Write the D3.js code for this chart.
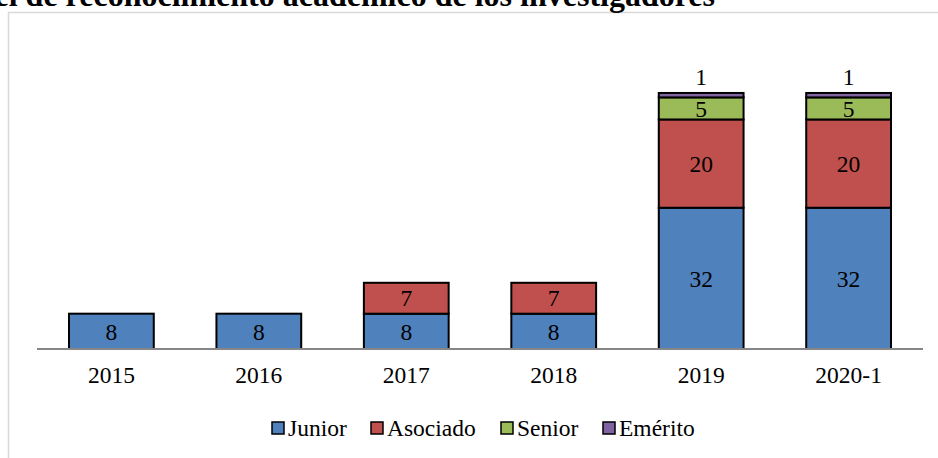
<!DOCTYPE html>
<html>
<head>
<meta charset="utf-8">
<script src="https://cdn.jsdelivr.net/npm/d3@7"></script>
<style>
  html, body { margin: 0; padding: 0; background: #fff; }
  svg { display: block; }
  text { font-family: "Liberation Serif", "Times New Roman", serif; fill: #000; }
</style>
</head>
<body>
<svg id="chart" width="938" height="458"></svg>
<script>
// Nivel de reconocimiento academico - stacked bars

const YEARS = ['2015', '2016', '2017', '2018', '2019', '2020-1'];
const SERIES = ['Junior', 'Asociado', 'Senior', 'Emérito'];
const JUNIOR = [8, 8, 8, 8, 32, 32];
const ASOCIADO = [0, 0, 7, 7, 20, 20];
const SENIOR = [0, 0, 0, 0, 5, 5];
const EMERITO = [0, 0, 0, 0, 1, 1];
const COLORS = ['#4F81BD', '#C0504D', '#9BBB59', '#8064A2'];

const rows = YEARS.map((y, i) => ({
  year: y, Junior: JUNIOR[i], Asociado: ASOCIADO[i], Senior: SENIOR[i], 'Emérito': EMERITO[i]
}));
const stacked = d3.stack().keys(SERIES)(rows);

const svg = d3.select('#chart');
const FONT = '"Liberation Serif", "Times New Roman", serif';

// outer frame (cut off on right and bottom like the source)
svg.append('rect')
  .attr('x', 8.5).attr('y', 12.5)
  .attr('width', 940).attr('height', 460)
  .attr('fill', 'none').attr('stroke', '#d9d9d9').attr('stroke-width', 1.5);

// title, partly outside the picture like the source crop
svg.append('text')
  .attr('x', 715).attr('y', 6)
  .attr('text-anchor', 'end')
  .style('font-family', FONT)
  .style('font-size', '32px').style('font-weight', 'bold')
  .text('Nivel de reconocimiento académico de los investigadores');

const x = d3.scaleBand().domain(YEARS).range([37, 923]).paddingInner(0.425).paddingOuter(0.217);
const y = d3.scaleLinear().domain([0, 70]).range([349, 40]);

const g = svg.append('g');

stacked.forEach((layer, si) => {
  g.selectAll(null)
    .data(layer.filter(d => d[1] - d[0] > 0))
    .enter()
    .append('rect')
    .attr('x', d => x(d.data.year))
    .attr('y', d => y(d[1]))
    .attr('width', x.bandwidth())
    .attr('height', d => y(d[0]) - y(d[1]))
    .attr('fill', COLORS[si])
    .attr('stroke', '#000')
    .attr('stroke-width', 2);
});

// data labels (the tiny Emérito segment gets its label above the stack)
stacked.forEach((layer, si) => {
  g.selectAll(null)
    .data(layer.filter(d => d[1] - d[0] > 0))
    .enter()
    .append('text')
    .attr('x', d => x(d.data.year) + x.bandwidth() / 2)
    .attr('y', d => SERIES[si] === 'Emérito' ? y(d[1]) - 16 : (y(d[0]) + y(d[1])) / 2)
    .attr('dy', '0.35em')
    .attr('text-anchor', 'middle')
    .style('font-family', FONT)
    .style('font-size', '23.5px')
    .text(d => d[1] - d[0]);
});

// category axis
const axis = d3.axisBottom(x).tickSize(0).tickPadding(17);
const ax = svg.append('g').attr('transform', 'translate(0,349)').call(axis);
ax.select('.domain').attr('stroke', '#868686').attr('stroke-width', 2)
  .attr('d', 'M37,0H923');
ax.selectAll('text').style('font-size', '23.5px')
  .style('font-family', FONT).attr('fill', '#000');

// legend
const legendX = [272, 371, 501, 603];
const lg = svg.append('g');
SERIES.forEach((s, i) => {
  lg.append('rect')
    .attr('x', legendX[i]).attr('y', 422)
    .attr('width', 12).attr('height', 12)
    .attr('fill', COLORS[i]).attr('stroke', '#000').attr('stroke-width', 1.5);
  lg.append('text')
    .attr('x', legendX[i] + 16).attr('y', 428)
    .attr('dy', '0.35em')
    .style('font-family', FONT)
    .style('font-size', '23.5px')
    .text(s);
});
</script>
</body>
</html>
